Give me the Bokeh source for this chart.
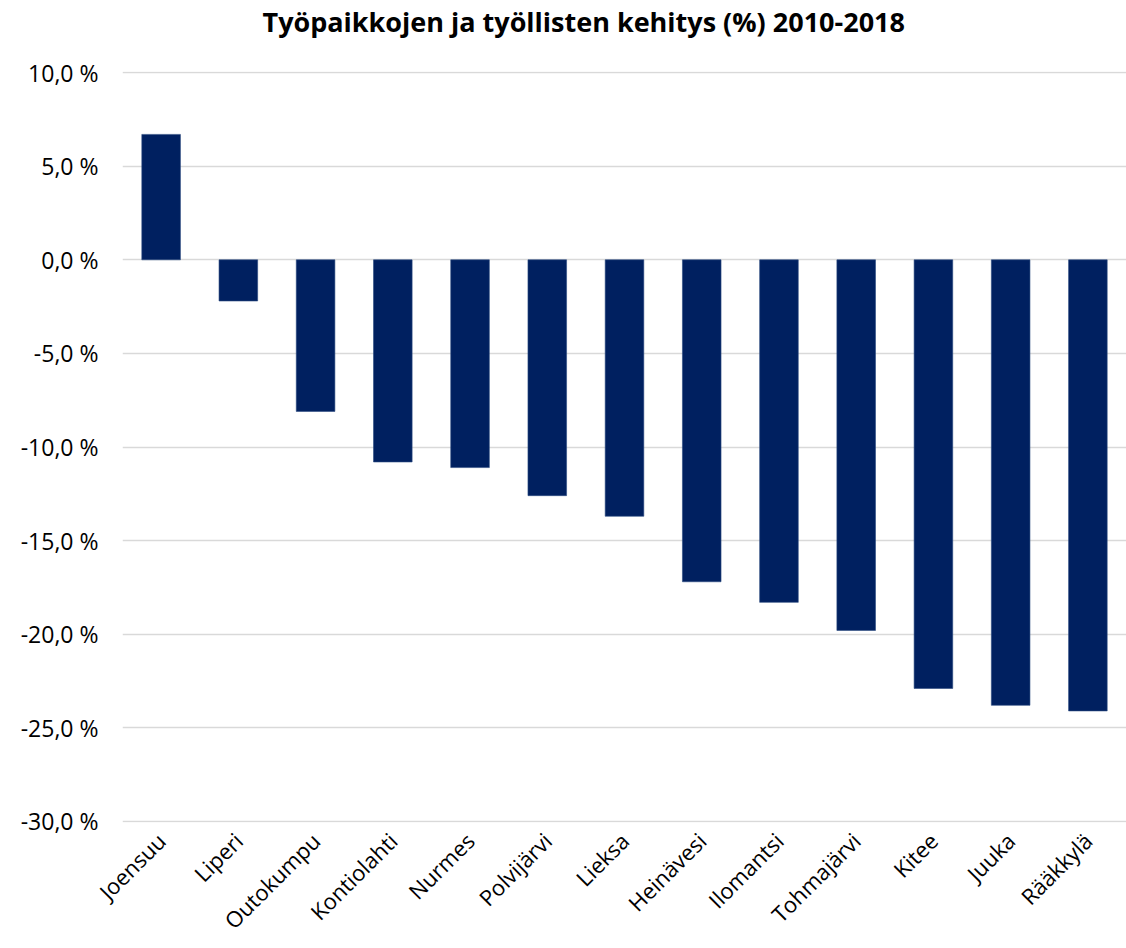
import math
from bokeh.plotting import figure
from bokeh.models import ColumnDataSource, Range1d, FixedTicker, CustomJSTickFormatter, Title
from bokeh.embed import file_html
from bokeh.resources import INLINE

categories = ["Joensuu", "Liperi", "Outokumpu", "Kontiolahti", "Nurmes", "Polvijärvi",
              "Lieksa", "Heinävesi", "Ilomantsi", "Tohmajärvi", "Kitee", "Juuka", "Rääkkylä"]
values = [6.7, -2.2, -8.1, -10.8, -11.1, -12.6, -13.7, -17.2, -18.3, -19.8, -22.9, -23.8, -24.1]
y_ticks = [10, 5, 0, -5, -10, -15, -20, -25, -30]

source = ColumnDataSource(dict(cat=categories, val=values))

p = figure(x_range=categories, y_range=Range1d(-30.06, 10.06),
           width=1126, height=948, output_backend="svg", toolbar_location=None,
           title="Työpaikkojen ja työllisten kehitys (%) 2010-2018",
           min_border_left=122, min_border_right=0, min_border_top=0, min_border_bottom=0)

# empty spacer between title and plot area
p.add_layout(Title(text=" ", text_font_size="26px", standoff=0), "above")

p.vbar(x="cat", top="val", bottom=0, width=0.5, source=source,
       fill_color="#002060", line_color="#2a4a80", line_width=0.6)

p.title.text_font = "Open Sans"
p.title.text_font_style = "bold"
p.title.text_font_size = "27px"
p.title.align = "left"
p.title.offset = 140
p.title.text_color = "#000000"
p.title.standoff = 0

p.outline_line_color = None
p.xgrid.grid_line_color = None
p.ygrid.grid_line_color = "#d9d9d9"
p.ygrid.grid_line_width = 1.5

p.yaxis.ticker = FixedTicker(ticks=y_ticks)
p.yaxis.formatter = CustomJSTickFormatter(code="return tick.toFixed(1).replace('.', ',') + ' %';")
p.yaxis.axis_line_color = None
p.yaxis.major_tick_line_color = None
p.yaxis.minor_tick_line_color = None
p.yaxis.major_label_text_font = "Open Sans"
p.yaxis.major_label_text_font_size = "23px"
p.yaxis.major_label_text_color = "#000000"
p.yaxis.major_label_standoff = 18

p.xaxis.axis_line_color = None
p.xaxis.major_tick_line_color = None
p.xaxis.major_label_orientation = math.pi / 4
p.xaxis.major_label_text_font = "Open Sans"
p.xaxis.major_label_text_font_size = "22px"
p.xaxis.major_label_text_color = "#000000"
p.xaxis.major_label_standoff = 8

open("out.html", "w").write(file_html(p, INLINE))
